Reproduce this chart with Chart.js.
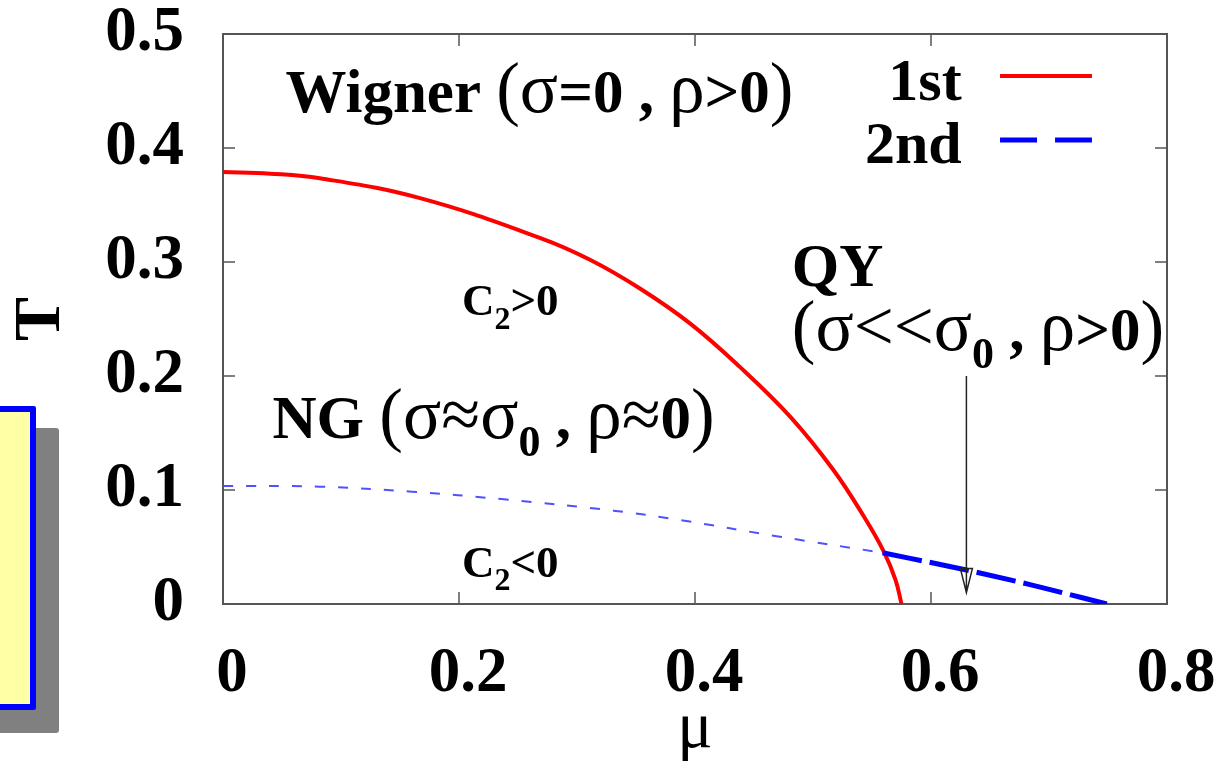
<!DOCTYPE html>
<html>
<head>
<meta charset="utf-8">
<title>Phase diagram</title>
<script src="https://cdn.jsdelivr.net/npm/chart.js@4.4.1/dist/chart.umd.min.js"></script>
<style>
  html, body { margin: 0; padding: 0; background: #fff; overflow: hidden; }
  #wrap { position: relative; width: 1229px; height: 763px; }
  #shadow { position: absolute; left: -20px; top: 428px; width: 79px; height: 305px; background: #808080; border-radius: 3px; }
  #note { position: absolute; left: -20px; top: 406px; width: 44px; height: 292px; background: #ffffa6; border: 6px solid #0000ff; border-radius: 2px; }
</style>
</head>
<body>
<div id="wrap">
  <canvas id="phase" width="1229" height="763"></canvas>
  <div id="shadow"></div>
  <div id="note"></div>
</div>
<script>
var firstMu = [0, 0.040, 0.082, 0.167, 0.269, 0.311, 0.353, 0.396, 0.438, 0.481, 0.517, 0.543, 0.560, 0.570, 0.575];
var firstT  = [0.379, 0.3775, 0.3735, 0.356, 0.321, 0.302, 0.277, 0.246, 0.208, 0.164, 0.118, 0.077, 0.046, 0.021, 0];
var secondMu = [0.559, 0.629, 0.684, 0.749];
var secondT  = [0.045, 0.030, 0.017, 0];
var spinoMu = [0, 0.082, 0.160, 0.238, 0.331, 0.387, 0.472, 0.559];
var spinoT  = [0.1035, 0.1029, 0.0985, 0.0918, 0.0819, 0.0737, 0.059, 0.045];
var muTicks = ['0', '0.2', '0.4', '0.6', '0.8'];
var tTicks = ['0', '0.1', '0.2', '0.3', '0.4', '0.5'];

function pts(xs, ys) {
  return xs.map(function (x, i) { return { x: x, y: ys[i] }; });
}

function serif(bold, size) {
  return (bold ? 'bold ' : '') + size + 'px "Liberation Serif", "Times New Roman", serif';
}

// text pieces: [text, bold, subscript]
var notes = [
  { mu: 0.053, t: 0.432, size: 61, parts: [['Wigner ', 1], ['(σ', 0], ['=0 , ', 1], ['ρ', 0], ['>0', 1], [')', 0]] },
  { mu: 0.042, t: 0.146, size: 61, parts: [['NG ', 1], ['(σ≈σ', 0], ['0', 1, 1], [' , ', 1], ['ρ≈', 0], ['0', 1], [')', 0]] },
  { mu: 0.482, t: 0.279, size: 61, parts: [['QY', 1]] },
  { mu: 0.482, t: 0.223, size: 61, parts: [['(σ<<σ', 0], ['0', 1, 1], [' , ', 1], ['ρ', 0], ['>0', 1], [')', 0]] },
  { mu: 0.2025, t: 0.2535, size: 45, parts: [['C', 1], ['2', 1, 1], ['>0', 1]] },
  { mu: 0.2025, t: 0.0237, size: 45, parts: [['C', 1], ['2', 1, 1], ['<0', 1]] }
];

var legendItems = [
  { label: '1st', t: 0.442, lineT: 0.4632, color: '#ff0000', width: 4, dash: [] },
  { label: '2nd', t: 0.387, lineT: 0.4070, color: '#0000ff', width: 5, dash: [37, 18] }
];

function drawRich(ctx, x, y, parts, size) {
  var cx = x;
  parts.forEach(function (p) {
    var s = p[2] ? Math.round(size * 0.72) : (p[1] ? size : Math.round(size * 1.17));
    ctx.font = serif(p[1], s);
    ctx.fillText(p[0], cx, y + (p[2] ? size * 0.3 : 0));
    cx += ctx.measureText(p[0]).width;
  });
}

var framePlugin = {
  id: 'frame',
  beforeDatasetsDraw: function (chart) {
    var ctx = chart.ctx, a = chart.chartArea;
    var xs = chart.scales.x, ys = chart.scales.y;
    ctx.save();
    ctx.strokeStyle = '#555';
    ctx.lineWidth = 2;
    ctx.strokeRect(a.left, a.top, a.right - a.left, a.bottom - a.top);
    ctx.lineWidth = 1.5;
    ctx.beginPath();
    xs.ticks.forEach(function (tk) {
      var px = xs.getPixelForValue(tk.value);
      ctx.moveTo(px, a.bottom); ctx.lineTo(px, a.bottom - 12);
      ctx.moveTo(px, a.top); ctx.lineTo(px, a.top + 12);
    });
    ys.ticks.forEach(function (tk) {
      var py = ys.getPixelForValue(tk.value);
      ctx.moveTo(a.left, py); ctx.lineTo(a.left + 12, py);
      ctx.moveTo(a.right, py); ctx.lineTo(a.right - 12, py);
    });
    ctx.stroke();
    ctx.restore();
  },
  afterDatasetsDraw: function (chart) {
    var ctx = chart.ctx;
    var xs = chart.scales.x, ys = chart.scales.y;
    ctx.save();
    ctx.fillStyle = '#000';
    ctx.textBaseline = 'alphabetic';
    ctx.textAlign = 'left';
    notes.forEach(function (n) {
      drawRich(ctx, xs.getPixelForValue(n.mu), ys.getPixelForValue(n.t), n.parts, n.size);
    });

    // arrow pointing at the 2nd order line
    var ax = xs.getPixelForValue(0.63);
    var y0 = ys.getPixelForValue(0.2), y1 = ys.getPixelForValue(0.01);
    ctx.strokeStyle = '#222';
    ctx.lineWidth = 1.5;
    ctx.beginPath();
    ctx.moveTo(ax, y0); ctx.lineTo(ax, y1);
    ctx.moveTo(ax - 6, y1 - 24); ctx.lineTo(ax, y1); ctx.lineTo(ax + 6, y1 - 24); ctx.closePath();
    ctx.stroke();

    // legend
    var tx = xs.getPixelForValue(0.626);
    var lx0 = xs.getPixelForValue(0.6585), lx1 = xs.getPixelForValue(0.7364);
    legendItems.forEach(function (it) {
      ctx.font = serif(true, 60);
      ctx.textAlign = 'right';
      ctx.fillStyle = '#000';
      ctx.fillText(it.label, tx, ys.getPixelForValue(it.t));
      var ly = ys.getPixelForValue(it.lineT);
      ctx.strokeStyle = it.color;
      ctx.lineWidth = it.width;
      ctx.setLineDash(it.dash);
      ctx.beginPath();
      ctx.moveTo(lx0, ly); ctx.lineTo(lx1, ly);
      ctx.stroke();
      ctx.setLineDash([]);
    });
    ctx.restore();
  }
};

var chart = new Chart(document.getElementById('phase'), {
  type: 'line',
  data: {
    datasets: [{
      label: '2nd',
      data: pts(secondMu, secondT),
      borderColor: '#0000ff',
      borderWidth: 5,
      borderDash: [40, 8],
      pointRadius: 0,
      cubicInterpolationMode: 'monotone',
      order: 0
    }, {
      label: '1st',
      data: pts(firstMu, firstT),
      borderColor: '#ff0000',
      borderWidth: 4,
      pointRadius: 0,
      tension: 0.4,
      order: 1
    }, {
      label: 'spinodal',
      data: pts(spinoMu, spinoT),
      borderColor: '#5050ff',
      borderWidth: 2,
      borderDash: [10, 13],
      pointRadius: 0,
      tension: 0.4,
      order: 2
    }]
  },
  options: {
    responsive: false,
    animation: false,
    layout: { padding: { top: 34, right: 62, left: 0, bottom: 0 } },
    plugins: { legend: { display: false }, tooltip: { enabled: false } },
    scales: {
      x: {
        type: 'linear',
        min: 0, max: 0.8,
        grid: { display: false },
        border: { display: false },
        afterFit: function (s) { s.height = 159; s.paddingLeft = 0; s.paddingRight = 0; },
        ticks: {
          stepSize: 0.2,
          padding: 25,
          labelOffset: 9,
          color: '#000',
          font: { family: '"Liberation Serif", serif', weight: 'bold', size: 63, lineHeight: 1.2 },
          callback: function (v, i) { return muTicks[i]; }
        },
        title: {
          display: true,
          text: 'μ',
          color: '#000',
          padding: { top: 0, bottom: -6 },
          font: { family: '"Liberation Serif", serif', size: 66, lineHeight: 1.2 }
        }
      },
      y: {
        type: 'linear',
        min: 0, max: 0.5,
        grid: { display: false },
        border: { display: false },
        afterFit: function (s) { s.width = 223; s.paddingTop = 0; s.paddingBottom = 0; },
        ticks: {
          stepSize: 0.1,
          padding: 31,
          color: '#000',
          font: { family: '"Liberation Serif", serif', weight: 'bold', size: 63, lineHeight: 1 },
          callback: function (v, i) { return tTicks[i]; }
        },
        title: {
          display: true,
          text: 'T',
          color: '#000',
          padding: { top: 2, bottom: 0 },
          font: { family: '"Liberation Serif", serif', weight: 'bold', size: 66, lineHeight: 1.2 }
        }
      }
    }
  },
  plugins: [framePlugin]
});
</script>
</body>
</html>
